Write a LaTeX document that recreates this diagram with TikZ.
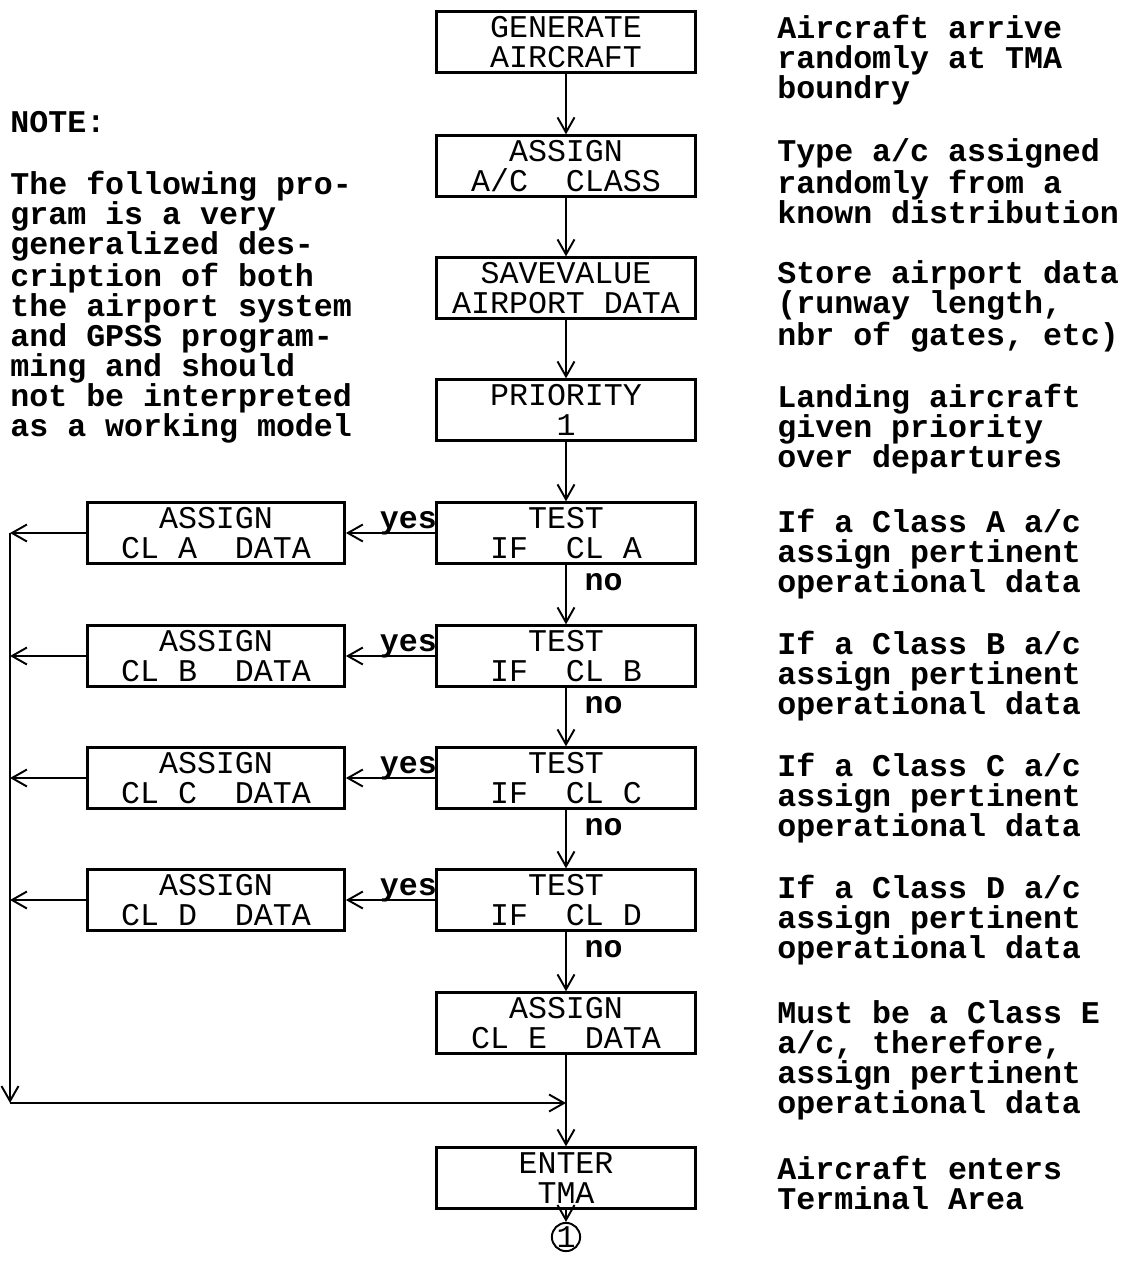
\documentclass[tikz,border=0pt]{standalone}
\usepackage{fontspec}
\setmonofont{Liberation Mono}
\usetikzlibrary{arrows.meta}
\newcommand{\blkfont}{\ttfamily\fontsize{18}{17.07}\selectfont}
\newcommand{\cmtfont}{\ttfamily\bfseries\fontsize{18}{17.07}\selectfont}

\begin{document}
\begin{tikzpicture}[x=0.02cm, y=-0.02cm, >={Straight Barb[length=3mm,width=3.4mm]},
  blk/.style={draw, line width=1.6pt, minimum width=5.18cm, minimum height=1.21cm,
    inner sep=0pt, align=center, font=\blkfont},
  cmt/.style={anchor=north west, inner sep=0pt, align=left, font=\cmtfont,
    execute at begin node=\strut},
  flow/.style={line width=1.1pt},
  lbl/.style={font=\cmtfont, inner sep=2pt}]
  \useasboundingbox (0,0) rectangle (1122,1271);
  \node[blk] (gen) at (566,42) {GENERATE\\AIRCRAFT};
  \node[blk] (cls) at (566,166) {ASSIGN\\A/C~~CLASS};
  \node[blk] (sav) at (566,288) {SAVEVALUE\\AIRPORT DATA};
  \node[blk] (pri) at (566,410) {PRIORITY\\1};
  \node[blk] (tstA) at (566,533) {TEST\\IF~~CL A};
  \node[blk] (tstB) at (566,656) {TEST\\IF~~CL B};
  \node[blk] (tstC) at (566,778) {TEST\\IF~~CL C};
  \node[blk] (tstD) at (566,900) {TEST\\IF~~CL D};
  \node[blk] (asgE) at (566,1023) {ASSIGN\\CL E~~DATA};
  \node[blk] (ent) at (566,1178) {ENTER\\TMA};
  \node[draw, circle, flow, minimum size=0.52cm, inner sep=0pt, font=\blkfont] (con) at (566,1237) {1};
  \node[blk, minimum width=5.14cm] (asgA) at (216,533) {ASSIGN\\CL A~~DATA};
  \node[blk, minimum width=5.14cm] (asgB) at (216,656) {ASSIGN\\CL B~~DATA};
  \node[blk, minimum width=5.14cm] (asgC) at (216,778) {ASSIGN\\CL C~~DATA};
  \node[blk, minimum width=5.14cm] (asgD) at (216,900) {ASSIGN\\CL D~~DATA};
  \coordinate (busA) at (10,533);
  \coordinate (busB) at (10,656);
  \coordinate (busC) at (10,778);
  \coordinate (busD) at (10,900);
  \coordinate (busE) at (10,1103);
  \coordinate (join) at (566,1103);
  \draw[flow,->] (gen) -- (cls);
  \draw[flow,->] (cls) -- (sav);
  \draw[flow,->] (sav) -- (pri);
  \draw[flow,->] (pri) -- (tstA);
  \draw[flow,->] (tstA) -- node[lbl, right, pos=0.3, xshift=8pt] {no} (tstB);
  \draw[flow,->] (tstB) -- node[lbl, right, pos=0.3, xshift=8pt] {no} (tstC);
  \draw[flow,->] (tstC) -- node[lbl, right, pos=0.3, xshift=8pt] {no} (tstD);
  \draw[flow,->] (tstD) -- node[lbl, right, pos=0.3, xshift=8pt] {no} (asgE);
  \draw[flow,->] (tstA) -- node[lbl, above, pos=0.3, inner sep=0pt, yshift=-2pt] {yes} (asgA);
  \draw[flow,->] (tstB) -- node[lbl, above, pos=0.3, inner sep=0pt, yshift=-2pt] {yes} (asgB);
  \draw[flow,->] (tstC) -- node[lbl, above, pos=0.3, inner sep=0pt, yshift=-2pt] {yes} (asgC);
  \draw[flow,->] (tstD) -- node[lbl, above, pos=0.3, inner sep=0pt, yshift=-2pt] {yes} (asgD);
  \draw[flow,->] (asgA) -- (busA);
  \draw[flow,->] (asgB) -- (busB);
  \draw[flow,->] (asgC) -- (busC);
  \draw[flow,->] (asgD) -- (busD);
  \draw[flow,->] (busA) -- (busE);
  \draw[flow,->] (busE) -- (join);
  \draw[flow,->] (asgE) -- (ent);
  \draw[flow,->] (ent) -- (con);
  \node[cmt] (note) at (10,111) {NOTE:};
  \node[cmt] (notetxt) at (10,171) {The following pro-\\gram is a very\\generalized des-\\cription of both\\the airport system\\and GPSS program-\\ming and should\\not be interpreted\\as a working model};
  \node[cmt] (cgen) at (777,15) {Aircraft arrive\\randomly at TMA\\boundry};
  \node[cmt] (ccls) at (777,138) {Type a/c assigned\\randomly from a\\known distribution};
  \node[cmt] (csav) at (777,260) {Store airport data\\(runway length,\\nbr of gates, etc)};
  \node[cmt] (cpri) at (777,384) {Landing aircraft\\given priority\\over departures};
  \node[cmt] (ctstA) at (777,509) {If a Class A a/c\\assign pertinent\\operational data};
  \node[cmt] (ctstB) at (777,631) {If a Class B a/c\\assign pertinent\\operational data};
  \node[cmt] (ctstC) at (777,753) {If a Class C a/c\\assign pertinent\\operational data};
  \node[cmt] (ctstD) at (777,875) {If a Class D a/c\\assign pertinent\\operational data};
  \node[cmt] (casgE) at (777,1000) {Must be a Class E\\a/c, therefore,\\assign pertinent\\operational data};
  \node[cmt] (cent) at (777,1156) {Aircraft enters\\Terminal Area};
\end{tikzpicture}
\end{document}
